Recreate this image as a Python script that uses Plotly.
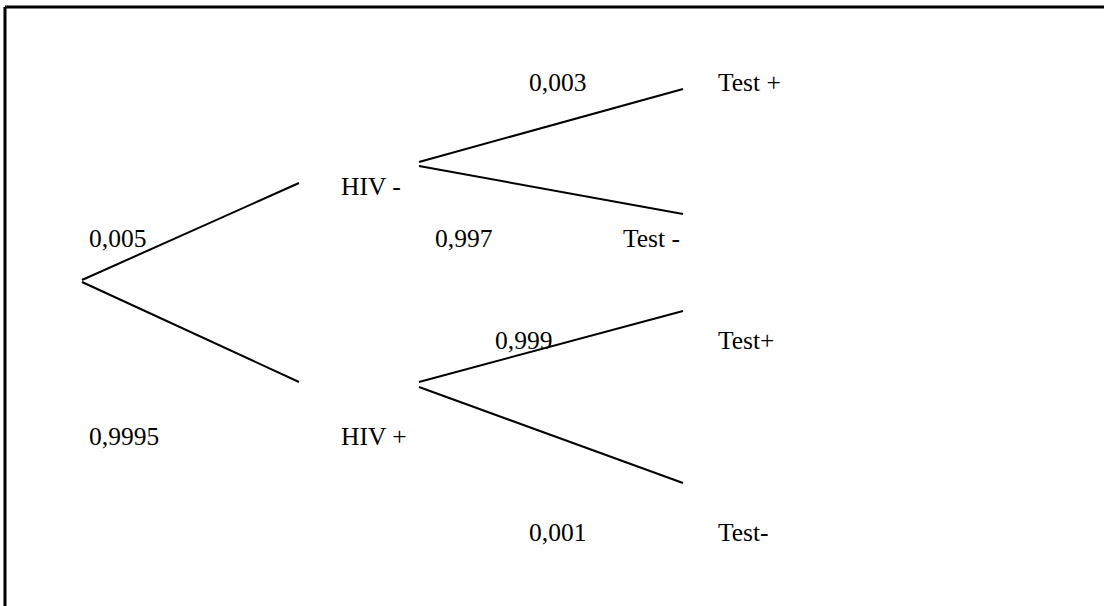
import plotly.graph_objects as go

# --- data: probability tree ---
stage1_labels = ["HIV -", "HIV +"]
stage1_probs = ["0,005", "0,9995"]
stage2_labels = [["Test +", "Test -"], ["Test+", "Test-"]]
stage2_probs = [["0,003", "0,997"], ["0,999", "0,001"]]

# --- layout geometry (pixel space) ---
root = (82, 281)
stage1_ends = [(299, 183), (299, 382)]
stage2_starts = [[(419, 162), (419, 166)], [(419, 382), (419, 387)]]
stage2_ends = [[(683, 89), (683, 214)], [(683, 311), (683, 483)]]

stage1_label_pos = [(339, 186), (339, 436)]
stage1_prob_pos = [(87, 238), (87, 436)]
stage2_label_pos = [[(716, 82), (621, 238)], [(716, 340), (716, 532)]]
stage2_prob_pos = [[(527, 82), (433, 238)], [(493, 340), (527, 532)]]

FONT = dict(family="Liberation Serif, Times New Roman, serif", size=25.5, color="black")
LINE = dict(color="black", width=2)

fig = go.Figure()

for i in range(2):
    fig.add_trace(go.Scatter(x=[root[0], stage1_ends[i][0]], y=[root[1] - 1 + 2 * i, stage1_ends[i][1]],
                             mode="lines", line=LINE, hoverinfo="skip", showlegend=False))
    for j in range(2):
        s = stage2_starts[i][j]
        e = stage2_ends[i][j]
        fig.add_trace(go.Scatter(x=[s[0], e[0]], y=[s[1], e[1]], mode="lines", line=LINE,
                                 hoverinfo="skip", showlegend=False))

annotations = []
def add_text(txt, pos):
    annotations.append(dict(x=pos[0], y=pos[1], text=txt, showarrow=False, xanchor="left",
                            yanchor="middle", font=FONT, xref="x", yref="y"))

for i in range(2):
    add_text(stage1_labels[i], stage1_label_pos[i])
    add_text(stage1_probs[i], stage1_prob_pos[i])
    for j in range(2):
        add_text(stage2_labels[i][j], stage2_label_pos[i][j])
        add_text(stage2_probs[i][j], stage2_prob_pos[i][j])

shapes = [
    dict(type="line", x0=5, x1=1104, y0=7, y1=7, xref="x", yref="y", line=dict(color="black", width=3)),
    dict(type="line", x0=5, x1=5, y0=7, y1=606, xref="x", yref="y", line=dict(color="black", width=3)),
]

fig.update_layout(
    width=1106, height=606,
    margin=dict(l=0, r=0, t=0, b=0),
    paper_bgcolor="white", plot_bgcolor="white",
    xaxis=dict(range=[0, 1106], visible=False, fixedrange=True),
    yaxis=dict(range=[606, 0], visible=False, fixedrange=True),
    annotations=annotations, shapes=shapes,
)

fig.write_html("out.html", config={"displayModeBar": False, "staticPlot": True},
               post_script="document.documentElement.style.overflow='hidden';"
                           "document.body.style.margin='0px';document.body.style.overflow='hidden';")
